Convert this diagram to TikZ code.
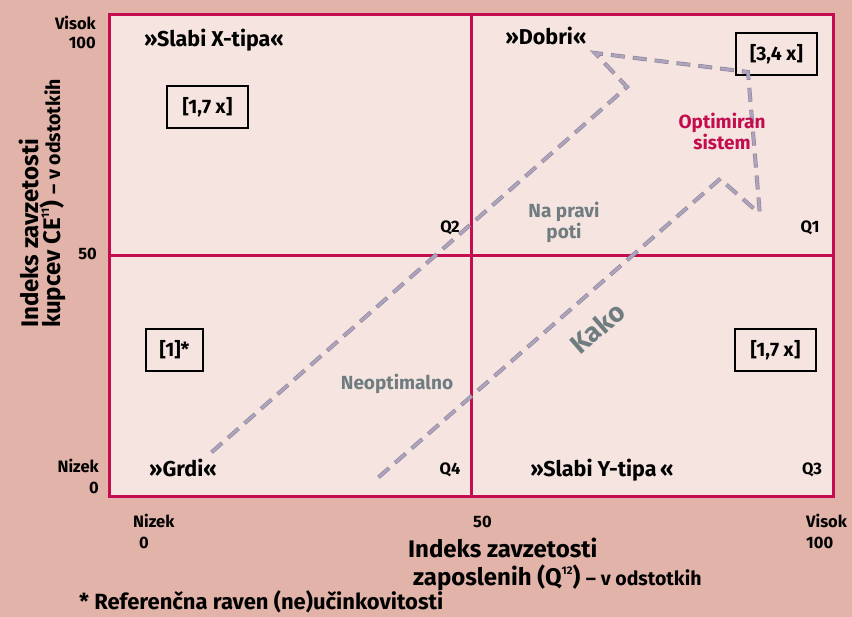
\documentclass[tikz,border=0pt]{standalone}
\usepackage{fontspec}
\setmainfont{Fira Sans}
\definecolor{bgpink}{HTML}{E2B3A8}
\definecolor{panelpink}{HTML}{F5E4DF}
\definecolor{framered}{HTML}{C30D4F}
\definecolor{dashfill}{HTML}{ADA3BC}
\definecolor{dashedge}{HTML}{8D8599}
\definecolor{notegray}{HTML}{6F7C80}
\tikzset{
  grid/.style={draw=framered, fill=panelpink, line width=3pt, minimum width=724pt, minimum height=482pt, inner sep=0pt},
  quadrule/.style={draw=framered, line width=3pt},
  factorbox/.style={draw, fill=panelpink, line width=2pt, minimum width=81pt, minimum height=42pt, inner sep=0pt, font=\bfseries\fontsize{19.5}{22}\selectfont},
  quadname/.style={anchor=base, inner sep=0pt, font=\bfseries\fontsize{21.5}{24}\selectfont},
  qlabel/.style={anchor=base, inner sep=0pt, font=\bfseries\fontsize{16.5}{20}\selectfont},
  tick/.style={inner sep=0pt, font=\bfseries\fontsize{16.5}{20}\selectfont},
  pathnote/.style={inner sep=0pt, align=center, text=notegray, font=\bfseries\fontsize{19}{21}\selectfont},
  axistitle/.style={anchor=base west, inner sep=0pt, font=\bfseries\fontsize{24}{30}\selectfont},
  route/.style={draw=dashfill, line width=2.8pt, line cap=rect, dash pattern=on 10pt off 12pt,
    preaction={draw=dashedge, line width=4pt, line cap=rect, dash pattern=on 10pt off 12pt}}
}
\newcommand{\smallbit}[1]{{\fontsize{19.5}{21}\selectfont #1}}
\newcommand{\supnum}[1]{\raisebox{0.85ex}{\fontsize{11}{11}\selectfont #1}}
\begin{document}
\begin{tikzpicture}[x=1pt, y=-1pt]
  \fill[bgpink] (0,0) rectangle (852,617);
  \node[grid] (grid) at (471,256) {};
  \draw[quadrule] (grid.north) -- (grid.south);
  \draw[quadrule] (grid.west) -- (grid.east);

  \node[tick, anchor=base east] (hi) at (96,30) {Visok};
  \node[tick, anchor=base east] (hinum) at (96,49) {100};
  \node[tick, anchor=base east] (mid) at (97,260) {50};
  \node[tick, anchor=base east] (lo) at (99,473) {Nizek};
  \node[tick, anchor=base east] (lonum) at (99,494) {0};

  \node[quadname] (slabix) at (214,47) {»Slabi X-tipa«};
  \node[quadname] (dobri) at (546,45) {»Dobri«};
  \node[quadname] (grdi) at (183,477) {»Grdi«};
  \node[quadname] (slabiy) at (602,477) {»Slabi Y-tipa\,«};

  \node[qlabel] (q2) at (450,233) {Q2};
  \node[qlabel] (q1) at (810,233) {Q1};
  \node[qlabel] (q4) at (450,475) {Q4};
  \node[qlabel] (q3) at (812,475) {Q3};

  \node[factorbox] (boxx) at (207.5,107) {[1,7 x]};
  \node[factorbox] (boxdobri) at (776.5,54) {[3,4 x]};
  \node[factorbox, minimum width=57pt] (boxgrdi) at (174.5,350) {[1]*};
  \node[factorbox] (boxy) at (775.5,350) {[1,7 x]};

  \coordinate (pravi0) at (213,451);
  \coordinate (pravi1) at (627,87);
  \coordinate (pravi2) at (595,53);
  \coordinate (pravi3) at (748,72);
  \coordinate (pravi4) at (760,216);
  \coordinate (kako0) at (380,476);
  \coordinate (kako1) at (720,179);
  \coordinate (kako2) at (752,207);
  \draw[route] (pravi0) -- (pravi1) -- (pravi2) -- (pravi3) -- (pravi4);
  \draw[route] (kako0) -- (kako1) -- (kako2);

  \node[pathnote, text=framered] (optimiran) at (722,131) {Optimiran\\sistem};
  \node[pathnote] (napravi) at (564,222) {Na pravi\\poti};
  \node[pathnote, anchor=base] (neopt) at (397,390) {Neoptimalno};
  \node[pathnote, rotate=41, font=\bfseries\fontsize{27}{30}\selectfont] (kako) at (597,328) {Kako};

  \node[tick, anchor=base west] (xlo) at (133,528) {Nizek};
  \node[tick, anchor=base west] (xlonum) at (139,548) {0};
  \node[tick, anchor=base west] (xmid) at (473,528) {50};
  \node[tick, anchor=base west] (xhi) at (806,528) {Visok};
  \node[tick, anchor=base west] (xhinum) at (806,548) {100};

  \node[axistitle] (xtitle) at (408,558) {Indeks zavzetosti};
  \node[axistitle] (xtitle2) at (413,585) {zaposlenih (Q\supnum{12}) \smallbit{– v odstotkih}};
  \node[axistitle, rotate=90] (ytitle) at (38,328) {Indeks zavzetosti};
  \node[axistitle, rotate=90] (ytitle2) at (60,328) {kupcev CE\supnum{11}) \smallbit{– v odstotkih}};

  \node[anchor=base west, inner sep=0pt, font=\bfseries\fontsize{22}{24}\selectfont] (note) at (79,609) {* Referenčna raven (ne)učinkovitosti};
\end{tikzpicture}
\end{document}
